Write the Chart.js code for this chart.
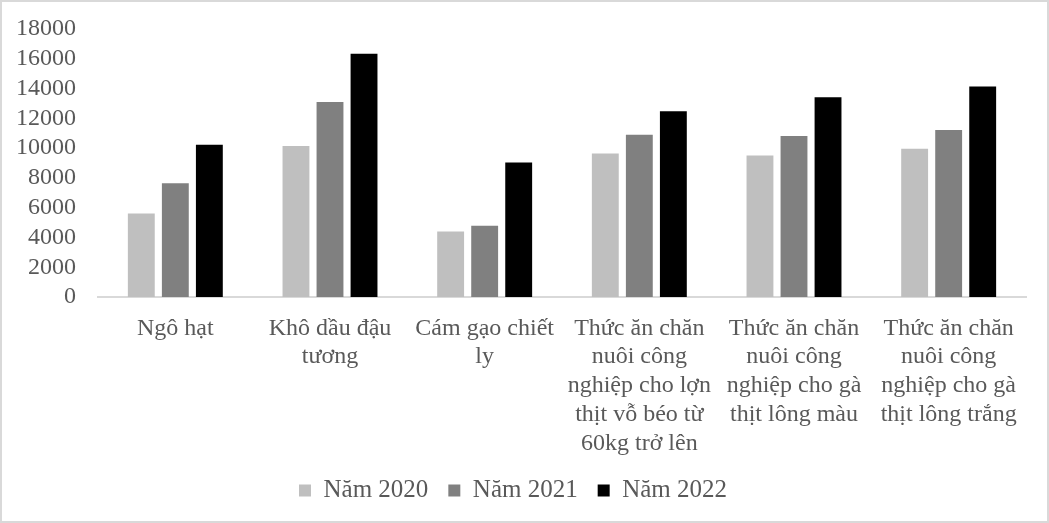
<!DOCTYPE html>
<html>
<head>
<meta charset="utf-8">
<script src="https://cdn.jsdelivr.net/npm/chart.js@4"></script>
<style>
  body { margin: 0; background: #fff; }
  #wrap { width: 1049px; height: 523px; position: relative; }
</style>
</head>
<body>
<div id="wrap"><canvas id="feedChart"></canvas></div>
<script>
// values
const categories = [
    ['Ngô hạt'],
    ['Khô dầu đậu', 'tương'],
    ['Cám gạo chiết', 'ly'],
    ['Thức ăn chăn', 'nuôi công', 'nghiệp cho lợn', 'thịt vỗ béo từ', '60kg trở lên'],
    ['Thức ăn chăn', 'nuôi công', 'nghiệp cho gà', 'thịt lông màu'],
    ['Thức ăn chăn', 'nuôi công', 'nghiệp cho gà', 'thịt lông trắng']
];
const seriesNames = ['Năm 2020', 'Năm 2021', 'Năm 2022'];
const values2020 = [5600, 10150, 4400, 9630, 9500, 9960];
const values2021 = [7640, 13100, 4780, 10890, 10820, 11220];
const values2022 = [10220, 16330, 9030, 12480, 13410, 14140];
const yTicks = [0, 2000, 4000, 6000, 8000, 10000, 12000, 14000, 16000, 18000];

const colors = ['#bfbfbf', '#808080', '#000000'];
const textColor = '#595959';
const font = { family: "'Liberation Serif', 'Times New Roman', serif", size: 24 };

// light grey frame round the whole picture
const frame = {
    id: 'frame',
    afterDraw(chart) {
        const ctx = chart.ctx;
        ctx.save();
        ctx.strokeStyle = '#d9d9d9';
        ctx.lineWidth = 2;
        ctx.strokeRect(1, 1, chart.width - 2, chart.height - 2);
        ctx.restore();
    }
};

const ctx = document.getElementById('feedChart').getContext('2d');
new Chart(ctx, {
    type: 'bar',
    data: {
        labels: categories,
        datasets: [values2020, values2021, values2022].map((vals, i) => ({
            label: seriesNames[i],
            data: vals,
            backgroundColor: colors[i],
            borderWidth: 0,
            categoryPercentage: 0.66,
            barPercentage: 0.79
        }))
    },
    options: {
        responsive: true,
        maintainAspectRatio: false,
        animation: false,
        devicePixelRatio: 1,
        layout: { padding: { left: 0, right: 23, top: 29, bottom: 10 } },
        plugins: {
            tooltip: { enabled: false },
            legend: {
                position: 'bottom',
                labels: {
                    color: textColor,
                    font: { family: font.family, size: 25 },
                    boxWidth: 12,
                    boxHeight: 12,
                    padding: 20
                }
            }
        },
        scales: {
            x: {
                grid: { display: false, drawTicks: false },
                border: { display: true, color: '#d9d9d9', width: 2 },
                ticks: { color: textColor, font: font, padding: 17, maxRotation: 0, autoSkip: false },
                afterFit(scale) { scale.height = 161; }
            },
            y: {
                min: 0,
                max: 18000,
                afterBuildTicks(scale) { scale.ticks = yTicks.map(v => ({ value: v })); },
                grid: { display: false, drawTicks: false },
                border: { display: false },
                ticks: {
                    color: textColor,
                    font: font,
                    padding: 22,
                    autoSkip: false,
                    callback: v => String(v)
                },
                afterFit(scale) {
                    scale.width = 98;
                    scale.paddingTop = 0;
                    scale.paddingBottom = 0;
                }
            }
        }
    },
    plugins: [frame]
});
</script>
</body>
</html>
